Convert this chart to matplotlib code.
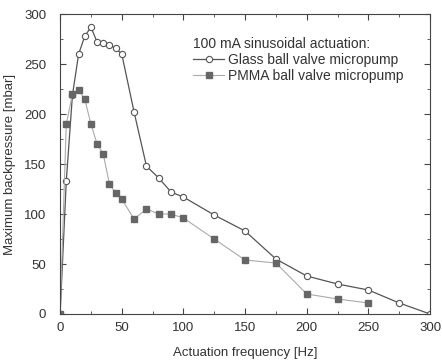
import matplotlib
matplotlib.use("Agg")
import matplotlib.pyplot as plt
from matplotlib.ticker import MultipleLocator

plt.rcParams['font.family'] = ['Liberation Sans', 'DejaVu Sans']

# Glass ball valve micropump
glass_freq = [0, 5, 10, 15, 20, 25, 30, 35, 40, 45, 50, 60, 70, 80, 90, 100,
              125, 150, 175, 200, 225, 250, 275, 300]
glass_bp = [0, 133, 219, 260, 278, 287, 272, 271, 269, 266, 260, 202, 148,
            136, 122, 117, 99, 83, 55, 38, 30, 24, 11, 0]

# PMMA ball valve micropump
pmma_freq = [0, 5, 10, 15, 20, 25, 30, 35, 40, 45, 50, 60, 70, 80, 90, 100,
             125, 150, 175, 200, 225, 250]
pmma_bp = [0, 190, 220, 224, 215, 190, 170, 160, 130, 121, 115, 95, 105,
           100, 100, 96, 75, 54, 51, 20, 15, 11]

fig = plt.figure(figsize=(4.42, 3.63), dpi=100)
ax = fig.add_axes([0.136, 0.135, 0.837, 0.826])

ax.plot(glass_freq, glass_bp, color='#555555', lw=0.9, marker='o', ms=4.5,
        mfc='white', mec='#555555', mew=0.8, label='Glass ball valve micropump')
ax.plot(pmma_freq, pmma_bp, color='#aaaaaa', lw=0.8, marker='s', ms=4,
        mfc='#666666', mec='#666666', label='PMMA ball valve micropump')

ax.set_xlim(0, 300)
ax.set_ylim(0, 300)
ax.xaxis.set_major_locator(MultipleLocator(50))
ax.xaxis.set_minor_locator(MultipleLocator(25))
ax.yaxis.set_major_locator(MultipleLocator(50))
ax.yaxis.set_minor_locator(MultipleLocator(25))
ax.tick_params(which='both', direction='in', top=True, right=True,
               labelsize=9.5, color='#444444', labelcolor='#333333')
ax.tick_params(which='major', length=4)
ax.tick_params(axis='y', which='major', pad=10)
ax.tick_params(axis='x', which='major', pad=6)
ax.tick_params(which='minor', length=2)
for s in ax.spines.values():
    s.set_color('#444444')

ax.set_xlabel('Actuation frequency [Hz]', fontsize=9.5, color='#333333',
              labelpad=9)
ax.set_ylabel('Maximum backpressure [mbar]', fontsize=9.5, color='#333333',
              labelpad=6)

leg = ax.legend(title='100 mA sinusoidal actuation:', loc='upper left',
                bbox_to_anchor=(0.36, 0.925), frameon=False, fontsize=10,
                title_fontsize=10, handlelength=2.2, handletextpad=0.3,
                borderaxespad=0, labelspacing=0.15, borderpad=0)
leg._legend_box.align = 'left'
for t in leg.get_texts():
    t.set_color('#333333')
leg.get_title().set_color('#333333')

fig.savefig('out.png', dpi=100)
